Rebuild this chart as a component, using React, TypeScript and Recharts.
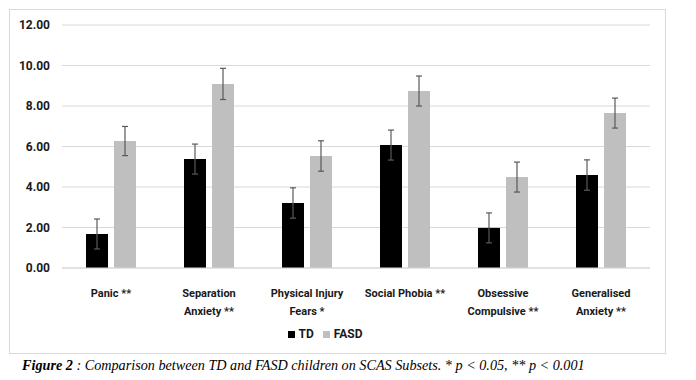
import { BarChart, Bar, XAxis, YAxis, CartesianGrid, Legend, ErrorBar } from 'recharts'

const categories = ['Panic **', 'Separation\nAnxiety **', 'Physical Injury\nFears *', 'Social Phobia **', 'Obsessive\nCompulsive **', 'Generalised\nAnxiety **']
const tdValues = [1.68, 5.38, 3.21, 6.07, 1.98, 4.59]
const fasdValues = [6.27, 9.09, 5.53, 8.74, 4.49, 7.65]
const tdErrors = [0.74, 0.74, 0.75, 0.74, 0.74, 0.75]
const fasdErrors = [0.72, 0.77, 0.75, 0.74, 0.74, 0.74]
const yTicks = [0, 2, 4, 6, 8, 10, 12]

const TD_COLOR = '#000000'
const FASD_COLOR = '#bfbfbf'
const GRID = '#d9d9d9'
const FONT = 'Roboto, "Noto Sans", sans-serif'
const TEXT = '#1a1a1a'

const data = categories.map((c, i) => ({
  name: c,
  TD: tdValues[i],
  FASD: fasdValues[i],
  tdErr: tdErrors[i],
  fasdErr: fasdErrors[i],
}))

function CategoryTick(props: any) {
  const { x, y, payload } = props
  const lines = String(payload.value).split('\n')
  return (
    <text x={x} y={y} textAnchor="middle" fontFamily={FONT} fontWeight={700} fontSize={11} fill={TEXT}>
      {lines.map((l, i) => (
        <tspan key={i} x={x} dy={i === 0 ? 21 : 18.3}>{l}</tspan>
      ))}
    </text>
  )
}

function LegendContent() {
  const items = [
    { label: 'TD', color: TD_COLOR },
    { label: 'FASD', color: FASD_COLOR },
  ]
  return (
    <div style={{ height: 20, display: 'flex', justifyContent: 'center', alignItems: 'center', gap: 9, fontFamily: FONT, fontWeight: 700, fontSize: 12, color: TEXT }}>
      {items.map(it => (
        <span key={it.label} style={{ display: 'flex', alignItems: 'center', gap: 4 }}>
          <span style={{ width: 7, height: 7, background: it.color, display: 'inline-block' }} />
          {it.label}
        </span>
      ))}
    </div>
  )
}

export default function App() {
  return (
    <div style={{ position: 'fixed', left: 0, top: 0, width: 696, height: 380, background: '#fff' }}>
      <div style={{ position: 'absolute', left: 9, top: 9, width: 657, height: 345, boxSizing: 'border-box', border: `1px solid ${GRID}` }} />
      <div style={{ position: 'absolute', left: 0, top: 0 }}>
        <BarChart width={696} height={380} data={data} margin={{ top: 25, right: 46, left: 0, bottom: 36 }} barSize={22} barGap={6}>
          <CartesianGrid vertical={false} stroke={GRID} strokeWidth={1} />
          <XAxis dataKey="name" tick={<CategoryTick />} tickLine={false} axisLine={{ stroke: GRID }} height={56} interval={0} />
          <YAxis
            width={62}
            domain={[0, 12]}
            ticks={yTicks}
            tickFormatter={(v: number) => v.toFixed(2)}
            tick={{ fontFamily: FONT, fontWeight: 700, fontSize: 12, fill: TEXT }}
            tickLine={false}
            axisLine={false}
            tickMargin={6}
          />
          <Legend verticalAlign="bottom" content={<LegendContent />} />
          <Bar dataKey="TD" fill={TD_COLOR} isAnimationActive={false}>
            <ErrorBar dataKey="tdErr" width={3} stroke="#595959" strokeWidth={1.2} />
          </Bar>
          <Bar dataKey="FASD" fill={FASD_COLOR} isAnimationActive={false}>
            <ErrorBar dataKey="fasdErr" width={3} stroke="#595959" strokeWidth={1.2} />
          </Bar>
        </BarChart>
      </div>
      <div style={{ position: 'absolute', left: 22, top: 357, fontFamily: '"Liberation Serif", "Times New Roman", serif', fontStyle: 'italic', fontSize: 14.2, color: '#000', whiteSpace: 'nowrap' }}>
        <b>Figure 2</b> : Comparison between TD and FASD children on SCAS Subsets. * <i>p</i> &lt; 0.05, ** <i>p</i> &lt; 0.001
      </div>
    </div>
  )
}
